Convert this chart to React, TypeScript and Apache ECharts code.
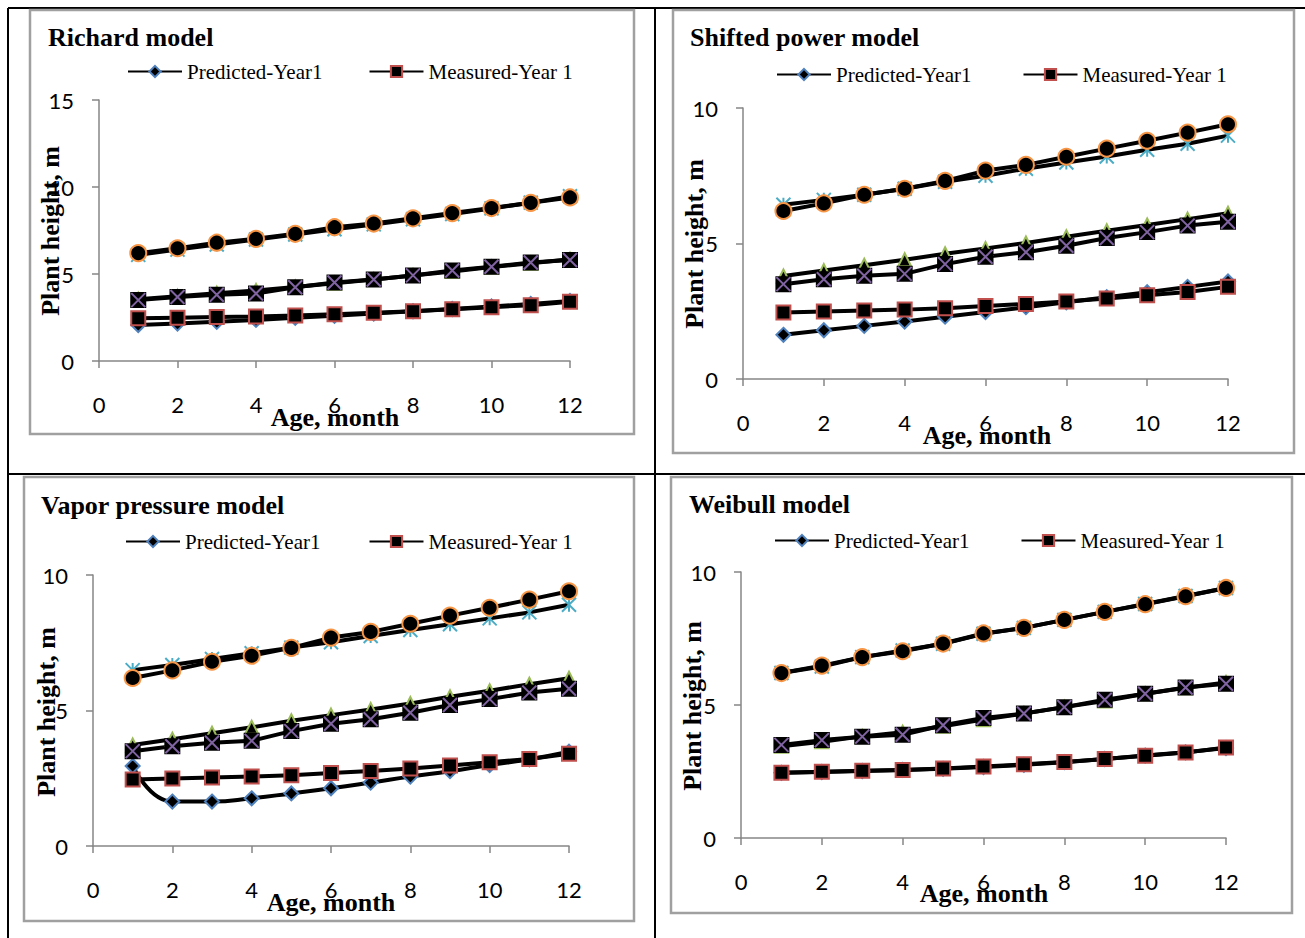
import React, { useEffect, useRef } from 'react';
import * as echarts from 'echarts';

const months = [1, 2, 3, 4, 5, 6, 7, 8, 9, 10, 11, 12];

const measured1 = [2.45, 2.49, 2.53, 2.56, 2.61, 2.69, 2.77, 2.86, 2.97, 3.09, 3.21, 3.4];
const measured2 = [3.5, 3.68, 3.81, 3.88, 4.24, 4.51, 4.68, 4.92, 5.2, 5.42, 5.66, 5.8];
const measured3 = [6.2, 6.48, 6.8, 7.02, 7.31, 7.69, 7.9, 8.2, 8.5, 8.79, 9.09, 9.4];

const richardP1 = [2.07, 2.15, 2.25, 2.36, 2.48, 2.6, 2.73, 2.86, 2.99, 3.13, 3.28, 3.45];
const richardP2 = [3.55, 3.72, 3.9, 4.05, 4.25, 4.47, 4.68, 4.92, 5.15, 5.4, 5.62, 5.85];
const richardP3 = [6.1, 6.4, 6.7, 6.98, 7.27, 7.57, 7.85, 8.15, 8.45, 8.77, 9.1, 9.47];

const shiftedP1 = [1.63, 1.8, 1.96, 2.12, 2.3, 2.47, 2.65, 2.83, 3.02, 3.2, 3.4, 3.6];
const shiftedP2 = [3.8, 4.0, 4.2, 4.4, 4.62, 4.82, 5.02, 5.25, 5.47, 5.68, 5.9, 6.12];
const shiftedP3 = [6.43, 6.61, 6.8, 7.02, 7.28, 7.5, 7.76, 7.99, 8.21, 8.46, 8.68, 8.98];

const vaporP1 = [2.95, 1.64, 1.64, 1.76, 1.94, 2.13, 2.34, 2.56, 2.76, 2.99, 3.2, 3.48];
const vaporP2 = [3.73, 3.94, 4.16, 4.38, 4.62, 4.83, 5.04, 5.26, 5.51, 5.73, 5.97, 6.19];
const vaporP3 = [6.49, 6.68, 6.9, 7.11, 7.32, 7.52, 7.75, 7.97, 8.18, 8.4, 8.62, 8.9];

const weibullP1 = [2.45, 2.48, 2.52, 2.56, 2.6, 2.67, 2.75, 2.85, 2.97, 3.1, 3.22, 3.38];
const weibullP2 = [3.45, 3.62, 3.82, 3.98, 4.2, 4.45, 4.68, 4.92, 5.15, 5.42, 5.65, 5.85];
const weibullP3 = [6.2, 6.45, 6.8, 7.05, 7.3, 7.68, 7.9, 8.2, 8.5, 8.8, 9.1, 9.4];

const seriesNames = ['Predicted-Year1', 'Measured-Year 1', 'Predicted-Year2', 'Measured-Year 2', 'Predicted-Year3', 'Measured-Year 3'];
const legendNames = ['Predicted-Year1', 'Measured-Year 1'];
const titles = ['Richard model', 'Shifted power model', 'Vapor pressure model', 'Weibull model'];
const yMaxes = [15, 10, 10, 10];
const xAxisTitle = 'Age, month';
const yAxisTitle = 'Plant height, m';

const predicted = [
  [richardP1, richardP2, richardP3],
  [shiftedP1, shiftedP2, shiftedP3],
  [vaporP1, vaporP2, vaporP3],
  [weibullP1, weibullP2, weibullP3],
];

const xPath = 'path://M0,0L20,20 M20,0L0,20';
const starPath = 'path://M0,0L20,20 M20,0L0,20 M10,0L10,20';

const markerStyles = [
  { symbol: 'diamond', size: 14, color: '#4F81BD' },
  { symbol: 'rect', size: 14, color: '#C0504D' },
  { symbol: 'triangle', size: 13, color: '#9BBB59' },
  { symbol: 'rect', size: 14, color: '#000000' },
  { symbol: starPath, size: 14, color: '#4BACC6' },
  { symbol: 'circle', size: 16, color: '#F79646' },
];

const layouts = [
  { grid: { left: 99, top: 100, width: 471, height: 261 }, box: [30, 10, 634, 434], title: [48, 37], legend: [127, 72, 46], yName: [50, 231], xName: [335, 417] },
  { grid: { left: 743, top: 108, width: 485, height: 271 }, box: [673, 10, 1294, 453], title: [690, 37], legend: [776, 75, 51], yName: [694, 244], xName: [987, 435] },
  { grid: { left: 93, top: 575, width: 476, height: 271 }, box: [24, 477, 634, 921], title: [41, 505], legend: [125, 542, 48], yName: [46, 712], xName: [331, 902] },
  { grid: { left: 741, top: 572, width: 485, height: 266 }, box: [671, 477, 1292, 913], title: [689, 504], legend: [774, 541, 51], yName: [692, 706], xName: [984, 893] },
];

export default function App() {
  const ref = useRef<HTMLDivElement>(null);
  useEffect(() => {
    const chart = echarts.init(ref.current!, null, { renderer: 'svg' });
    const axisColor = '#868686';
    const serifBold = 'bold 26px "Liberation Serif", "Times New Roman", serif';

    const grids: any[] = [];
    const xAxes: any[] = [];
    const yAxes: any[] = [];
    const legends: any[] = [];
    const series: any[] = [];
    const graphics: any[] = [];

    const tableLines = [
      [8, 8, 1305, 8],
      [8, 474, 1305, 474],
      [8, 8, 8, 938],
      [655, 8, 655, 938],
    ];
    tableLines.forEach(([x1, y1, x2, y2]) => {
      graphics.push({ type: 'line', shape: { x1, y1, x2, y2 }, style: { stroke: '#000', lineWidth: 2 }, z: 0 });
    });

    layouts.forEach((L, i) => {
      grids.push({ ...L.grid, containLabel: false });
      xAxes.push({
        type: 'value', gridIndex: i, min: 0, max: 12, interval: 2,
        axisLine: { show: true, onZero: false, lineStyle: { color: axisColor, width: 1.5 } },
        axisTick: { show: true, length: 7, lineStyle: { color: axisColor, width: 1.5 } },
        splitLine: { show: false },
        axisLabel: { margin: 33, fontFamily: 'Lato', fontSize: 22, color: '#000', lineHeight: 20 },
      });
      yAxes.push({
        type: 'value', gridIndex: i, min: 0, max: yMaxes[i], interval: 5,
        axisLine: { show: true, onZero: false, lineStyle: { color: axisColor, width: 1.5 } },
        axisTick: { show: true, length: 7, lineStyle: { color: axisColor, width: 1.5 } },
        splitLine: { show: false },
        axisLabel: { margin: 25, fontFamily: 'Lato', fontSize: 22, color: '#000' },
      });
      legends.push({
        data: legendNames, left: L.legend[0], top: L.legend[1] - 11, padding: 0,
        itemWidth: 54, itemHeight: 14, itemGap: L.legend[2], selectedMode: false,
        textStyle: { fontFamily: '"Liberation Serif", "Times New Roman", serif', fontSize: 21, color: '#000' },
      });
      const arrays = [predicted[i][0], measured1, predicted[i][1], measured2, predicted[i][2], measured3];
      arrays.forEach((arr, k) => {
        const m = markerStyles[k];
        const data = months.map((mo, j) => [mo, arr[j]]);
        series.push({
          type: 'line', name: seriesNames[k], xAxisIndex: i, yAxisIndex: i,
          data,
          symbol: m.symbol, symbolSize: m.size, showSymbol: true,
          smooth: i === 2 && k === 0 ? true : false,
          lineStyle: { color: '#000', width: 4 },
          itemStyle: { color: '#000', borderColor: m.color, borderWidth: 2 },
        });
        if (k === 3) {
          // purple cross drawn over the black square markers of Measured-Year 2
          series.push({
            type: 'line', name: 'Measured-Year 2 marker', xAxisIndex: i, yAxisIndex: i,
            data,
            symbol: xPath, symbolSize: 14, showSymbol: true, silent: true,
            lineStyle: { width: 0, opacity: 0 },
            itemStyle: { color: 'none', borderColor: '#8064A2', borderWidth: 2 },
          });
        }
      });
      const [bx1, by1, bx2, by2] = L.box;
      graphics.push({ type: 'rect', shape: { x: bx1, y: by1, width: bx2 - bx1, height: by2 - by1 }, style: { fill: 'none', stroke: '#a0a0a0', lineWidth: 2.5 }, z: 0 });
      graphics.push({ type: 'text', x: L.title[0], y: L.title[1], style: { text: titles[i], font: serifBold, fill: '#000', align: 'left', verticalAlign: 'middle' }, z: 10 });
      graphics.push({ type: 'text', x: L.xName[0], y: L.xName[1], style: { text: xAxisTitle, font: serifBold, fill: '#000', align: 'center', verticalAlign: 'middle' }, z: 10 });
      graphics.push({ type: 'text', x: L.yName[0], y: L.yName[1], rotation: Math.PI / 2, style: { text: yAxisTitle, font: serifBold, fill: '#000', align: 'center', verticalAlign: 'middle' }, z: 10 });
    });

    chart.setOption({
      animation: false,
      backgroundColor: '#fff',
      grid: grids,
      xAxis: xAxes,
      yAxis: yAxes,
      legend: legends,
      series,
      graphic: { elements: graphics },
    });
    return () => chart.dispose();
  }, []);
  return <div ref={ref} style={{ position: 'absolute', left: 0, top: 0, width: 1305, height: 938, background: '#fff' }} />;
}
